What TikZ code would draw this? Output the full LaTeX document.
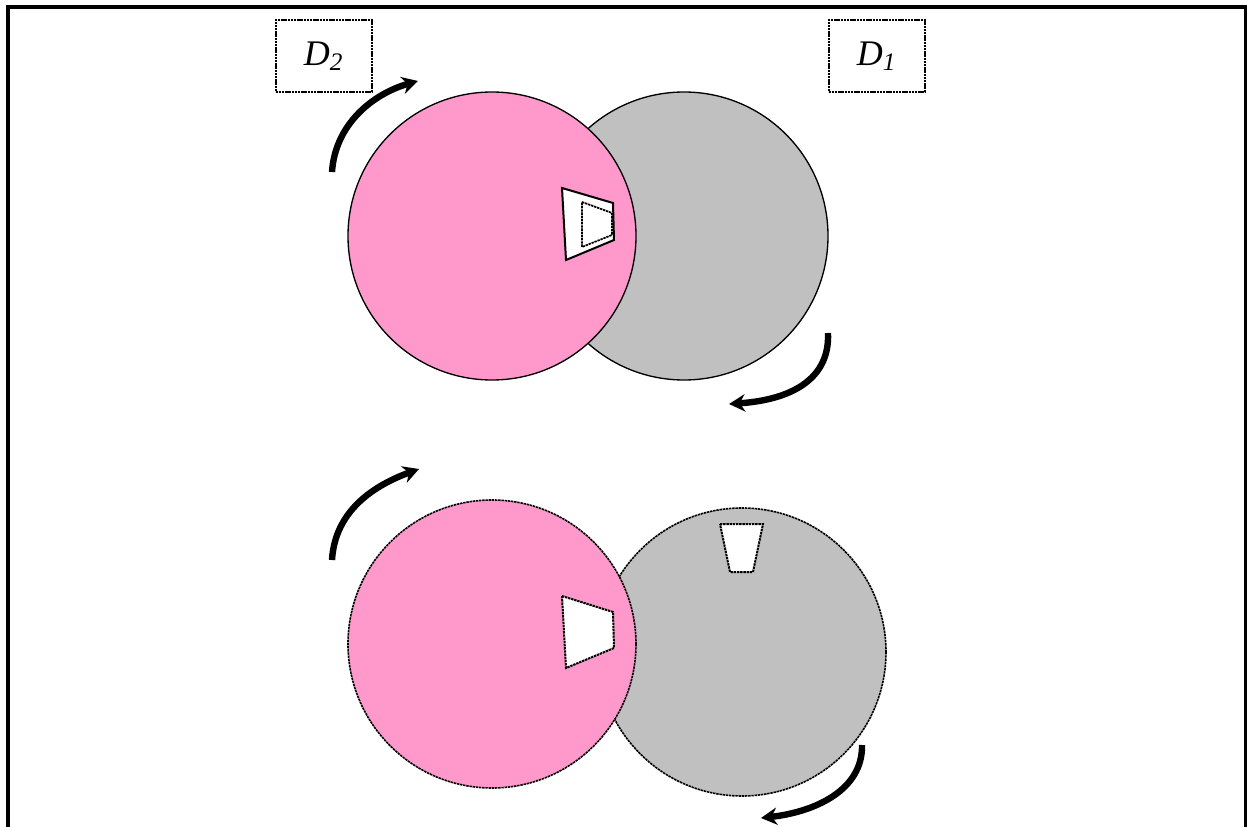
\documentclass[tikz,border=0pt]{standalone}
\usepackage{fontspec}
\setmainfont{Liberation Serif}
\usetikzlibrary{arrows.meta}
\definecolor{diskpink}{HTML}{FF99CC}
\definecolor{diskgray}{HTML}{C0C0C0}
\begin{document}
\begin{tikzpicture}[x=0.75pt,y=-0.75pt,
  disk/.style={circle,inner sep=0pt,minimum size=216pt,draw=black,line width=1pt},
  dotline/.style={dash pattern=on 1.8pt off 0.6pt},
  hole/.style={fill=white,draw=black,line width=1.5pt,line join=miter},
  labelbox/.style={draw=black,line width=1.5pt,dotline,minimum width=72pt,minimum height=54pt,inner sep=0pt,font=\fontsize{27}{32}\selectfont\itshape},
  turn/.style={line width=4.8pt,-{Stealth[length=12pt,width=13pt,inset=4pt]}},
  frameline/.style={line width=3pt}
]
\useasboundingbox (0,0) rectangle (1247,827);
% frame
\coordinate (fbl) at (7.5,827);
\coordinate (ftl) at (7.5,7.5);
\coordinate (ftr) at (1245.5,7.5);
\coordinate (fbr) at (1245.5,827);
\draw[frameline] (fbl) -- (ftl) -- (ftr) -- (fbr);
% labels
\node[labelbox] (d2) at (323.5,56) {D\textsubscript{2}};
\node[labelbox] (d1) at (876.5,56) {D\textsubscript{1}};
% top pair
\node[disk,fill=diskgray] (g1) at (684,236) {};
\node[disk,fill=diskpink] (p1) at (492,236) {};
\draw[hole] (562,188) -- (613,203) -- (614,240) -- (566,260) -- cycle;
\draw[dotline,line width=1.3pt] (582,202) -- (612,213) -- (612,235) -- (582,247) -- cycle;
% bottom pair
\node[disk,fill=diskgray,dotline,line width=1.2pt] (g2) at (742,652) {};
\node[disk,fill=diskpink,dotline,line width=1.2pt] (p2) at (492,644) {};
\draw[hole,dotline] (562,596) -- (613,612) -- (614,648) -- (566,668) -- cycle;
\draw[hole,dotline] (720,524) -- (763,524) -- (753,572) -- (730,572) -- cycle;
% rotation arrows
\coordinate (a1s) at (332,172); \coordinate (a1e) at (418,81);
\draw[turn] (a1s) .. controls (335,125) and (372,94) .. (a1e);
\coordinate (a2s) at (828,333); \coordinate (a2e) at (729,404);
\draw[turn] (a2s) .. controls (830,380) and (790,400) .. (a2e);
\coordinate (a3s) at (332,560); \coordinate (a3e) at (419,469);
\draw[turn] (a3s) .. controls (335,510) and (375,485) .. (a3e);
\coordinate (a4s) at (862,745); \coordinate (a4e) at (761,818);
\draw[turn] (a4s) .. controls (863,790) and (815,812) .. (a4e);
\end{tikzpicture}
\end{document}
